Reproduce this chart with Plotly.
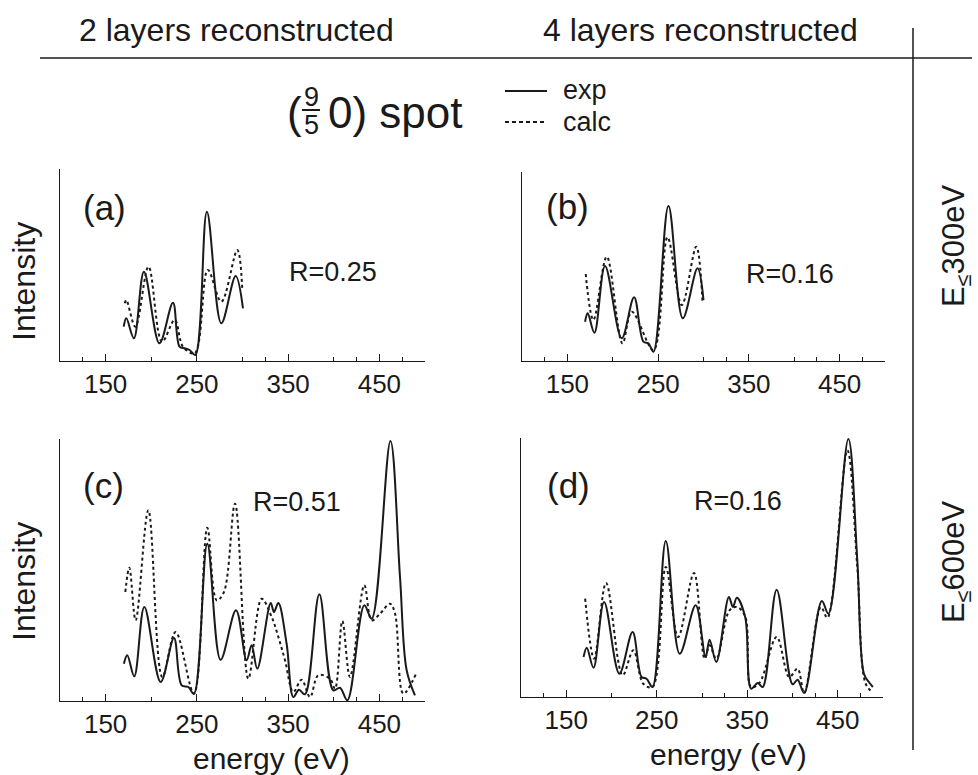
import plotly.graph_objects as go

# ---------------- data (energy in eV, intensity in arbitrary units) ----------------
a_exp_E = [169.8, 172.7, 181, 192, 209, 223.8, 231, 236.6, 242, 248.3, 261, 276.8, 292.5, 300.5]
a_exp_I = [34.3, 42.7, 22.7, 89.3, 17.7, 58.3, 14.3, 12.7, 11, 6, 149.3, 37.7, 85, 52.7]
a_calc_E = [171, 172.7, 182.6, 197, 211.8, 225.7, 234.8, 247.6, 262, 276.8, 294.3, 299.8]
a_calc_I = [57.7, 61, 34.3, 94.3, 19.3, 41, 14.3, 7.7, 91, 59.3, 111, 71]

b_exp_E = [169.5, 172.4, 179.8, 191.5, 209.9, 223.5, 233.8, 239.3, 244.9, 261.4, 277.2, 293.4, 300]
b_exp_I = [39.3, 47.7, 28.3, 95, 22.7, 63.7, 19.3, 17.7, 9.3, 155, 42.7, 92.7, 61]
b_calc_E = [170.2, 178.7, 193.4, 210.7, 221, 244.9, 260.3, 276.1, 292, 299]
b_calc_I = [87, 41, 104.3, 17.7, 49.3, 11, 123.7, 56, 114.3, 57.7]

c_exp_E = [170, 173.7, 181.4, 192.4, 210.3, 224.9, 233.3, 240.6, 246.8, 261.4, 276, 292.9,
           304.5, 310, 316.2, 330.9, 334.5, 339.3, 348.4, 355.7, 361.9, 368.5, 384.2, 399.5,
           406.8, 414.9, 433.5, 441.6, 462.1, 472.6, 479.9, 489]
c_exp_I = [37.3, 45.7, 24.7, 94, 19, 63, 15.7, 14, 7.3, 157.3, 41.3, 90.7,
           40.7, 55.7, 32.3, 98, 89, 98, 57, 4, 11.3, 6.7, 106.7, 10.7,
           13.3, 0.7, 95.7, 82.3, 260, 124, 30.7, 5.7]
c_calc_E = [171.6, 176, 182.9, 196.8, 212.1, 226.7, 246.8, 261.4, 271.7, 279.7, 291.8, 306.4,
            321, 332, 339.3, 346.6, 355.7, 364.8, 374, 383.1, 395.9, 401.4, 409.4, 417.8,
            433.5, 441.6, 450.7, 461.7, 467.2, 476.3, 490.2]
c_calc_I = [109, 133.3, 80.7, 190.7, 24, 69, 7.3, 173.3, 100.7, 109, 197.3, 22.3,
            102.3, 84, 64, 40.7, 9, 21.3, 4, 25.7, 22.3, 12.3, 80, 24,
            115.7, 80.7, 87.3, 97.3, 87.3, 7.3, 27.3]

d_exp_E = [169.1, 172.7, 180.1, 191.8, 208.7, 223.3, 233.2, 238.7, 245.3, 260, 275.4, 293,
           304, 308.4, 315.8, 329.7, 334.1, 338.5, 347.7, 354.3, 361.6, 367.1, 382.5, 400.1,
           405.6, 412.9, 432.4, 439.7, 461.7, 471.6, 478.9, 484.4, 488.8]
d_exp_I = [40, 49.3, 29.3, 95, 23.3, 65, 20, 18.3, 10, 156, 43.3, 91.7,
           40, 57.3, 35, 100, 90, 99.3, 80, 8.3, 14, 10, 107.3, 12.7,
           17.3, 4, 96, 83.3, 258, 136.7, 23.3, 15, 10]
d_calc_E = [170.9, 180.8, 194, 212.3, 224.1, 235.1, 245.3, 260, 273.6, 291.2, 302.9, 308.4,
            315.8, 330.4, 338.5, 347.7, 354.3, 363.4, 382.5, 396.4, 405.6, 412.9, 431.3, 438.6,
            460.6, 471.6, 480.8, 488.1]
d_calc_I = [98.3, 38.3, 114, 21.7, 46.7, 13.3, 10, 130, 60, 124, 38.3, 51.7,
            38.3, 86.7, 90, 80.7, 10, 14, 60, 20, 28.3, 4, 90, 79.3,
            246.7, 130, 13.3, 5]

major_ticks = [150, 250, 350, 450]
minor_ticks = [125, 200, 300, 325, 400, 425, 475, 500]
panel_labels = ["(a)", "(b)", "(c)", "(d)"]
r_labels = ["R=0.25", "R=0.16", "R=0.51", "R=0.16"]
col_titles = ["2 layers reconstructed", "4 layers reconstructed"]
row_titles = ["E<sub>≤</sub>300eV", "E<sub>≤</sub>600eV"]

# ---------------- layout geometry (pixels) ----------------
W, H = 978, 775
FONT = "Liberation Sans, Arial, sans-serif"
INK = "#1a1a1a"

def px(x):
    return x / W

def py(y):
    return 1 - y / H

# panel boxes: (left, right, top, bottom) in px
boxes = [(60, 425, 169, 361), (522, 885, 172, 361), (60, 425, 439, 701), (521, 883, 438, 697)]
series = [(a_exp_E, a_exp_I, a_calc_E, a_calc_I),
          (b_exp_E, b_exp_I, b_calc_E, b_calc_I),
          (c_exp_E, c_exp_I, c_calc_E, c_calc_I),
          (d_exp_E, d_exp_I, d_calc_E, d_calc_I)]

fig = go.Figure()
annotations = []
shapes = []

for i, (box, (eE, eI, cE, cI)) in enumerate(zip(boxes, series)):
    l, r, t, b = box
    n = "" if i == 0 else str(i + 1)
    xa, ya = "x" + n, "y" + n
    fig.add_trace(go.Scatter(x=cE, y=cI, mode="lines", line=dict(color=INK, width=2, dash="3px,3px", shape="spline", smoothing=1.0),
                             xaxis=xa, yaxis=ya, showlegend=False, name="calc"))
    fig.add_trace(go.Scatter(x=eE, y=eI, mode="lines", line=dict(color=INK, width=2, shape="spline", smoothing=1.0),
                             xaxis=xa, yaxis=ya, showlegend=False, name="exp"))
    fig.layout["xaxis" + n] = dict(
        domain=[px(l), px(r)], range=[100, 500], anchor=ya,
        showline=True, linecolor=INK, linewidth=1.3, showgrid=False, zeroline=False,
        tickmode="array", tickvals=major_ticks, ticks="inside", ticklen=7, tickwidth=1.3, tickcolor=INK,
        tickfont=dict(family=FONT, size=26, color=INK),
        minor=dict(tickmode="array", tickvals=minor_ticks, ticks="inside", ticklen=4, tickwidth=1.1, tickcolor=INK),
    )
    fig.layout["yaxis" + n] = dict(
        domain=[py(b), py(t)], range=[0, b - t], anchor=xa,
        showline=True, linecolor=INK, linewidth=1.3, showgrid=False, zeroline=False,
        showticklabels=False, ticks="",
    )

def ann(text, x, y, size, xanchor="center", yanchor="middle", angle=0):
    annotations.append(dict(text=text, x=px(x), y=py(y), xref="paper", yref="paper",
                            xanchor=xanchor, yanchor=yanchor, showarrow=False, textangle=angle,
                            font=dict(family=FONT, size=size, color=INK)))

# panel labels and R factors
for (txt, (x, y)) in zip(panel_labels, [(104, 207), (567, 206), (103, 485), (568, 485)]):
    ann(txt, x, y, 35)
for (txt, (x, y)) in zip(r_labels, [(333, 272), (790, 274), (297, 502), (738, 501)]):
    ann(txt, x, y, 27)

# axis titles
ann("Intensity", 24, 282, 32, angle=-90)
ann("Intensity", 24, 582, 32, angle=-90)
ann("energy (eV)", 271, 758, 30)
ann("energy (eV)", 728, 754, 30)

# column / row titles
ann(col_titles[0], 236, 30, 32)
ann(col_titles[1], 700, 30, 32)
ann(row_titles[0], 956, 246, 31, angle=-90)
ann(row_titles[1], 956, 562, 31, angle=-90)

# spot title with stacked fraction 9/5
ann("(", 285, 113, 44, xanchor="left")
ann("9", 311, 97, 27)
ann("5", 311, 125, 27)
ann("0) spot", 326, 113, 44, xanchor="left")
shapes.append(dict(type="line", xref="paper", yref="paper", x0=px(302), x1=px(320), y0=py(110), y1=py(110),
                   line=dict(color=INK, width=2)))

# legend key
shapes.append(dict(type="line", xref="paper", yref="paper", x0=px(505), x1=px(547), y0=py(91), y1=py(91),
                   line=dict(color=INK, width=2)))
shapes.append(dict(type="line", xref="paper", yref="paper", x0=px(505), x1=px(547), y0=py(122), y1=py(122),
                   line=dict(color=INK, width=2, dash="4px,3px")))
ann("exp", 561, 90, 27, xanchor="left")
ann("calc", 561, 122, 27, xanchor="left")

# frame lines
shapes.append(dict(type="line", xref="paper", yref="paper", x0=px(40), x1=px(972), y0=py(58), y1=py(58),
                   line=dict(color=INK, width=1.5)))
shapes.append(dict(type="line", xref="paper", yref="paper", x0=px(913), x1=px(913), y0=py(28), y1=py(750),
                   line=dict(color=INK, width=1.5)))

fig.update_layout(
    width=W, height=H, margin=dict(l=0, r=0, t=0, b=0),
    paper_bgcolor="white", plot_bgcolor="white",
    annotations=annotations, shapes=shapes, showlegend=False,
    font=dict(family=FONT, color=INK),
)

fig.write_html("out.html")
